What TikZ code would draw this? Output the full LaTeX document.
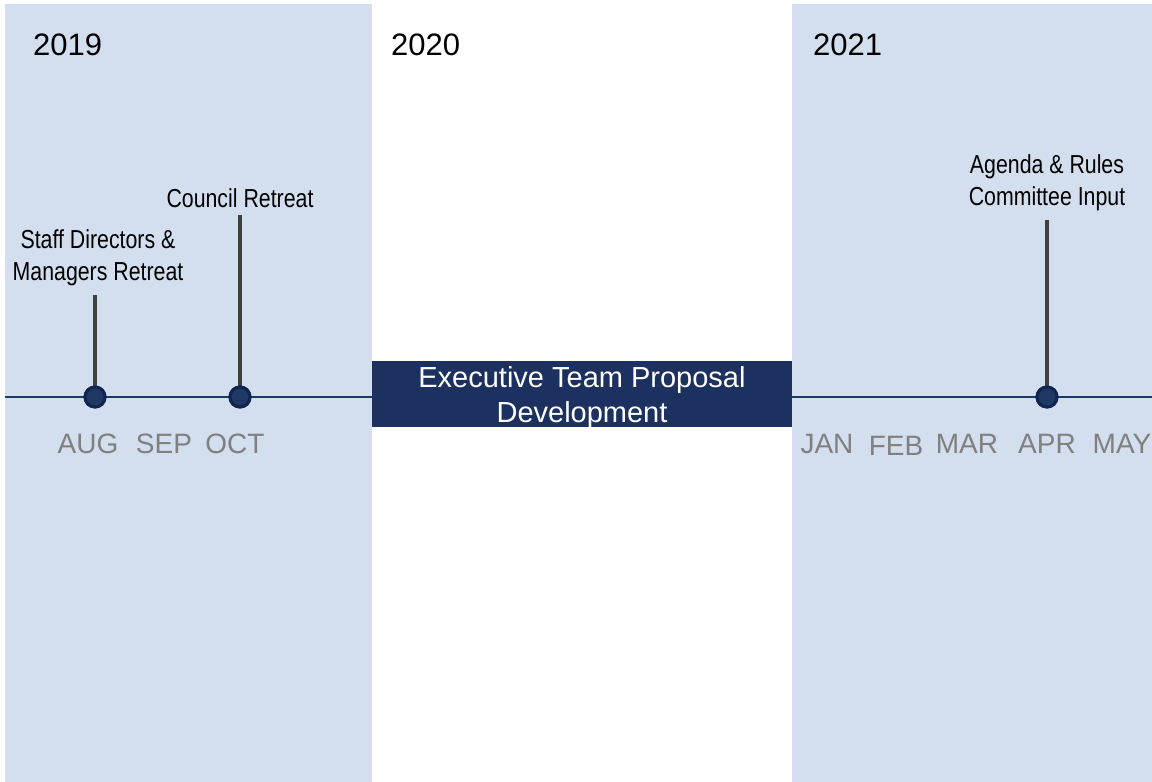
\documentclass[tikz,border=0pt]{standalone}
\usepackage{fontspec}
\setmainfont{Liberation Sans}
\newfontfamily\narrowfont[FakeStretch=0.82]{Liberation Sans}
\definecolor{panel}{HTML}{D3DFEE}
\definecolor{navy}{HTML}{1C3160}
\definecolor{dotfill}{HTML}{1F3864}
\definecolor{dotring}{HTML}{112551}
\definecolor{stemgray}{HTML}{404040}
\definecolor{monthgray}{HTML}{808080}
\begin{document}
\begin{tikzpicture}[x=1pt,y=-1pt,
  panelbox/.style={fill=panel,draw=none},
  yearlabel/.style={anchor=base west,inner sep=0pt,font=\fontsize{31}{36}\selectfont},
  monthlabel/.style={anchor=base,inner sep=0pt,text=monthgray,font=\fontsize{28}{32}\selectfont},
  eventlabel/.style={align=center,inner sep=0pt,font=\narrowfont\fontsize{26}{32}\selectfont},
  eventdot/.style={circle,fill=dotfill,draw=dotring,line width=3pt,minimum size=20pt,inner sep=0pt},
  stemline/.style={draw=stemgray,line width=4pt},
  axisline/.style={draw=dotfill,line width=2pt},
  phasebox/.style={fill=navy,text=white,align=center,inner sep=0pt,
    minimum width=420pt,minimum height=66pt,font=\fontsize{29}{35}\selectfont}
]
\useasboundingbox (0,0) rectangle (1152,782);
\fill[white] (0,0) rectangle (1152,782);
% panels
\path[panelbox] (5,4) rectangle (372,782);
\path[panelbox] (792,4) rectangle (1152,782);
% years
\node[yearlabel] (y2019) at (33,55) {2019};
\node[yearlabel] (y2020) at (391,55) {2020};
\node[yearlabel] (y2021) at (813,55) {2021};
% phase box
\node[phasebox] (etp) at (582,394) {};
\node[align=center,text=white,inner sep=0pt,font=\fontsize{29}{35}\selectfont] (etpText) at (582,397) {Executive Team Proposal\\Development};
% axis
\coordinate (axL) at (5,397);
\coordinate (axR) at (1152,397);
\draw[axisline] (axL) -- (axL -| etp.west);
\draw[axisline] (axR -| etp.east) -- (axR);
% events
\node[eventdot] (dAug) at (95,397) {};
\node[eventdot] (dOct) at (240,397) {};
\node[eventdot] (dApr) at (1047,397) {};
\coordinate (tAug) at (95,295);
\coordinate (tOct) at (240,215);
\coordinate (tApr) at (1047,220);
\draw[stemline] (dAug.center) -- (tAug);
\draw[stemline] (dOct.center) -- (tOct);
\draw[stemline] (dApr.center) -- (tApr);
\node[eventdot] at (dAug) {};
\node[eventdot] at (dOct) {};
\node[eventdot] at (dApr) {};
\node[eventlabel] (lAug) at (98,258) {Staff Directors \&\\Managers Retreat};
\node[eventlabel] (lOct) at (240,198) {Council Retreat};
\node[eventlabel] (lApr) at (1047,183) {Agenda \& Rules\\Committee Input};
% months
\node[monthlabel] (mAug) at (88,453) {AUG};
\node[monthlabel] (mSep) at (164,453) {SEP};
\node[monthlabel] (mOct) at (235,453) {OCT};
\node[monthlabel] (mJan) at (827,453) {JAN};
\node[monthlabel] (mFeb) at (896,455) {FEB};
\node[monthlabel] (mMar) at (967,453) {MAR};
\node[monthlabel] (mApr) at (1047,453) {APR};
\node[monthlabel] (mMay) at (1122,453) {MAY};
\end{tikzpicture}
\end{document}
